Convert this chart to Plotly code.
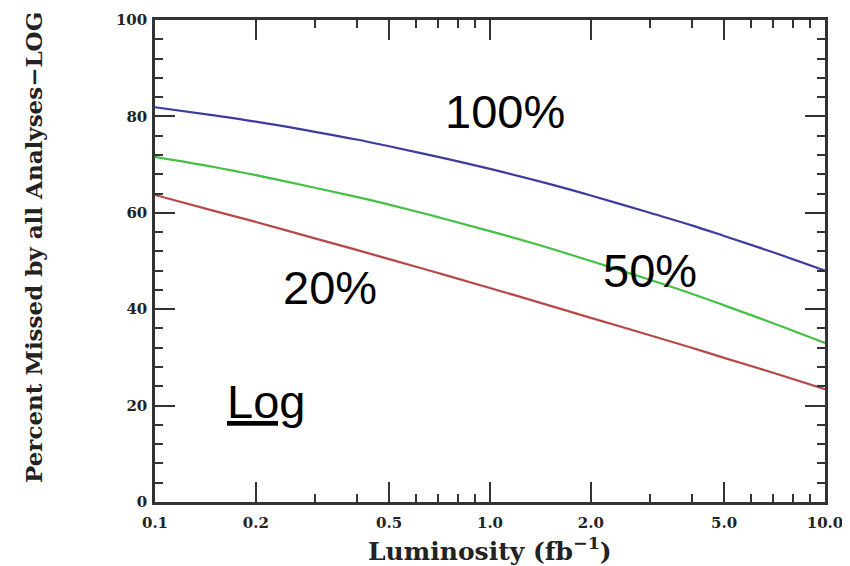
import math
import plotly.graph_objects as go

lumi = [0.1, 0.15, 0.2, 0.3, 0.4, 0.5, 0.7, 1.0, 1.5, 2.0, 3.0, 4.0, 5.0, 7.0, 10.0]
miss_100 = [81.9, 80.2, 78.9, 76.8, 75.2, 73.8, 71.6, 69.1, 66.0, 63.6, 60.0, 57.4, 55.2, 51.8, 48.0]
miss_50 = [71.6, 69.5, 67.8, 65.2, 63.3, 61.7, 59.1, 56.2, 52.7, 50.0, 46.1, 43.2, 40.8, 37.1, 33.0]
miss_20 = [63.7, 60.4, 58.1, 54.7, 52.3, 50.4, 47.5, 44.4, 40.8, 38.2, 34.6, 32.0, 29.9, 26.8, 23.4]

x_major = [0.1, 0.2, 0.5, 1.0, 2.0, 5.0, 10.0]
x_major_text = ["0.1", "0.2", "0.5", "1.0", "2.0", "5.0", "10.0"]
x_minor = [0.3, 0.4, 0.6, 0.7, 0.8, 0.9, 3, 4, 6, 7, 8, 9]
y_major = [0, 20, 40, 60, 80, 100]
y_major_text = ["0", "20", "40", "60", "80", "100"]

labels = ["100%", "50%", "20%", "<u>Log</u>"]
label_x = [1.11, 3.0, 0.333, 0.214]
label_y = [81.0, 48.0, 44.5, 20.8]

# page has an 8px body margin: figure is sized so the plot lands where the reference has it
OFF = 8
W, H = 850 - OFF, 566 - OFF
L, R, T, B = 155 - OFF, 25, 20 - OFF, 64
pw, ph = W - L - R, H - T - B

fig = go.Figure()
for ys, col in [(miss_100, "#3c3c9c"), (miss_50, "#44c044"), (miss_20, "#b84848")]:
    fig.add_trace(go.Scatter(x=lumi, y=ys, mode="lines", line=dict(color=col, width=2.2, shape="spline"),
                             showlegend=False, hoverinfo="skip"))

tickfont = dict(family="DejaVu Serif", size=15, color="#222")
fig.update_xaxes(type="log", range=[-1, 1], tickvals=x_major,
                 ticktext=["<b>%s</b>" % t for t in x_major_text],
                 ticks="inside", ticklen=20, tickwidth=2, tickcolor="#333",
                 minor=dict(tickvals=x_minor, ticks="inside", ticklen=8, tickwidth=2, tickcolor="#333"),
                 showline=True, linecolor="#333", linewidth=2.5, mirror="ticks",
                 showgrid=False, zeroline=False, tickfont=tickfont, automargin=False,
                 ticklabelstandoff=5)
fig.update_yaxes(range=[0, 100], tickvals=y_major,
                 ticktext=["<b>%s</b>" % t for t in y_major_text],
                 ticks="inside", ticklen=20, tickwidth=2, tickcolor="#333",
                 minor=dict(dtick=4, ticks="inside", ticklen=8, tickwidth=2, tickcolor="#333"),
                 showline=True, linecolor="#333", linewidth=2.5, mirror="ticks",
                 showgrid=False, zeroline=False, tickfont=tickfont, automargin=False,
                 ticklabelstandoff=2)

def px_to_paper(xp, yp):
    return ((xp - OFF - L) / pw, 1 - (yp - OFF - T) / ph)

tx, ty = px_to_paper(490, 549)
fig.add_annotation(x=tx, y=ty, xref="paper", yref="paper", xanchor="center", yanchor="middle",
                   text="<b>Luminosity (fb<sup>−1</sup>)</b>", showarrow=False,
                   font=dict(family="DejaVu Serif", size=25, color="#222"))
tx, ty = px_to_paper(33, 248)
fig.add_annotation(x=tx, y=ty, xref="paper", yref="paper", xanchor="center", yanchor="middle",
                   text="<b>Percent Missed by all Analyses−LOG</b>", textangle=-90, showarrow=False,
                   font=dict(family="DejaVu Serif", size=23, color="#222"))

lab = dict(family="Liberation Sans", size=47, color="#000")
for txt, xv, yv in zip(labels, label_x, label_y):
    fig.add_annotation(x=math.log10(xv), y=yv, xref="x", yref="y", text=txt, showarrow=False, font=lab)

fig.update_layout(width=W, height=H, margin=dict(l=L, r=R, t=T, b=B),
                  plot_bgcolor="white", paper_bgcolor="white")
fig.write_html("out.html")
